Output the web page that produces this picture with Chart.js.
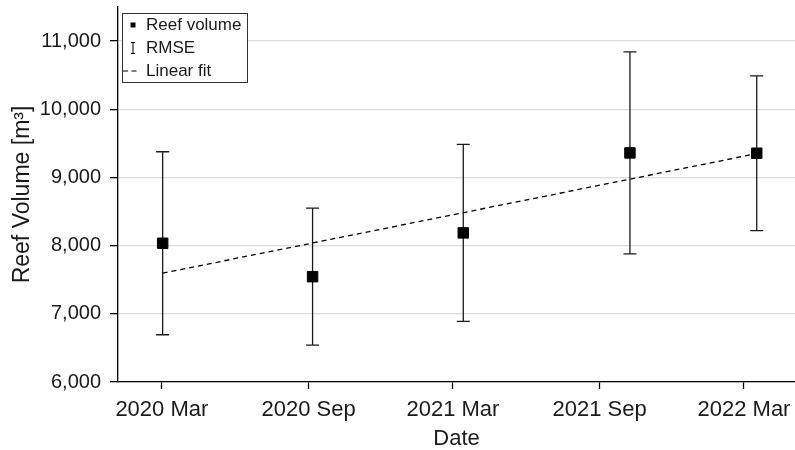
<!DOCTYPE html>
<html>
<head>
<meta charset="utf-8">
<script src="https://cdn.jsdelivr.net/npm/chart.js@4/dist/chart.umd.min.js"></script>
<style>
  body { margin: 0; background: #fff; }
</style>
</head>
<body>
<canvas id="reefChart" width="795" height="450"></canvas>
<script>
// Survey dates and measured reef volume (m3) with RMSE
const surveyDates = ['2020-03-02', '2020-09-06', '2021-03-14', '2021-10-09', '2022-03-17'];
const reefVolume = [8035, 7545, 8187, 9360, 9355];
const rmse = [1342, 1005, 1297, 1481, 1135];

// Linear fit end points
const fitDates = ['2020-03-02', '2022-03-17'];
const fitValues = [7596, 9350];

// Axis ticks
const tickDates = ['2020-03-01', '2020-09-01', '2021-03-01', '2021-09-01', '2022-03-01'];
const tickLabels = ['2020 Mar', '2020 Sep', '2021 Mar', '2021 Sep', '2022 Mar'];
const yTicks = [6000, 7000, 8000, 9000, 10000, 11000];

const FONT = "'Liberation Sans', Arial, sans-serif";

// days since epoch, so a plain linear scale works without a date adapter
function toDay(s) {
  return Date.parse(s + 'T00:00:00Z') / 86400000;
}

const tickDays = tickDates.map(toDay);

// error bars drawn behind the square markers
const errorBars = {
  id: 'errorBars',
  beforeDatasetsDraw(chart) {
    const ctx = chart.ctx;
    const xs = chart.scales.x;
    const ys = chart.scales.y;
    ctx.save();
    ctx.strokeStyle = '#1a1a1a';
    ctx.lineWidth = 1.3;
    for (let i = 0; i < reefVolume.length; i++) {
      const x = xs.getPixelForValue(toDay(surveyDates[i]));
      const top = ys.getPixelForValue(reefVolume[i] + rmse[i]);
      const bot = ys.getPixelForValue(reefVolume[i] - rmse[i]);
      ctx.beginPath();
      ctx.moveTo(x, top); ctx.lineTo(x, bot);
      ctx.moveTo(x - 6.5, top); ctx.lineTo(x + 6.5, top);
      ctx.moveTo(x - 6.5, bot); ctx.lineTo(x + 6.5, bot);
      ctx.stroke();
    }
    ctx.restore();
  }
};

// boxed legend in the upper left of the plot
const boxLegend = {
  id: 'boxLegend',
  afterDraw(chart) {
    const ctx = chart.ctx;
    const left = chart.chartArea.left + 4;
    const top = 13;
    ctx.save();
    ctx.fillStyle = '#fff';
    ctx.fillRect(left, top, 125, 69);
    ctx.strokeStyle = '#333';
    ctx.lineWidth = 1;
    ctx.strokeRect(left + 0.5, top + 0.5, 125, 69);

    const mx = left + 11;
    ctx.fillStyle = '#000';
    ctx.fillRect(mx - 2.5, 22.5, 5, 5);

    ctx.strokeStyle = '#000';
    ctx.beginPath();
    ctx.moveTo(mx, 42); ctx.lineTo(mx, 54);
    ctx.moveTo(mx - 2, 42.5); ctx.lineTo(mx + 2, 42.5);
    ctx.moveTo(mx - 2, 53.5); ctx.lineTo(mx + 2, 53.5);
    ctx.stroke();

    ctx.setLineDash([5, 3.5]);
    ctx.beginPath();
    ctx.moveTo(left + 1, 71); ctx.lineTo(left + 16, 71);
    ctx.stroke();
    ctx.setLineDash([]);

    ctx.fillStyle = '#1a1a1a';
    ctx.font = '17px ' + FONT;
    ctx.textBaseline = 'middle';
    ctx.fillText('Reef volume', left + 24, 25);
    ctx.fillText('RMSE', left + 24, 48);
    ctx.fillText('Linear fit', left + 24, 71);
    ctx.restore();
  }
};

new Chart(document.getElementById('reefChart'), {
  type: 'line',
  data: {
    datasets: [
      {
        label: 'Linear fit',
        data: fitDates.map((d, i) => ({ x: toDay(d), y: fitValues[i] })),
        borderColor: '#000',
        borderWidth: 1.3,
        borderDash: [5, 4],
        pointRadius: 0,
        fill: false
      },
      {
        label: 'Reef volume',
        data: surveyDates.map((d, i) => ({ x: toDay(d), y: reefVolume[i] })),
        showLine: false,
        pointStyle: 'rect',
        pointRadius: 7.4,
        pointBackgroundColor: '#000',
        pointBorderColor: '#000',
        pointBorderWidth: 1
      }
    ]
  },
  options: {
    responsive: false,
    animation: false,
    layout: { autoPadding: false, padding: { top: 7, left: 0, right: 0, bottom: 0 } },
    plugins: {
      legend: { display: false },
      tooltip: { enabled: false }
    },
    scales: {
      x: {
        type: 'linear',
        min: toDay('2020-01-06'),
        max: toDay('2022-05-04'),
        afterBuildTicks: (scale) => {
          scale.ticks = tickDays.map(v => ({ value: v }));
        },
        afterFit: (scale) => {
          scale.height = 68;
          scale.paddingLeft = 0;
          scale.paddingRight = 0;
        },
        ticks: {
          autoSkip: false,
          maxRotation: 0,
          padding: 8,
          color: '#1a1a1a',
          font: { family: FONT, size: 22 },
          callback: (v) => tickLabels[tickDays.indexOf(v)]
        },
        grid: {
          drawOnChartArea: false,
          drawTicks: true,
          tickLength: 7,
          tickColor: '#000',
          tickWidth: 1.3
        },
        border: { color: '#000', width: 1.3 },
        title: {
          display: true,
          text: 'Date',
          color: '#1a1a1a',
          font: { family: FONT, size: 22, lineHeight: 1 },
          padding: { top: 0, bottom: 0 }
        }
      },
      y: {
        min: 6000,
        max: 11500,
        afterBuildTicks: (scale) => {
          scale.ticks = yTicks.map(v => ({ value: v }));
        },
        afterFit: (scale) => {
          scale.width = 118;
          scale.paddingTop = 0;
          scale.paddingBottom = 0;
        },
        ticks: {
          padding: 9,
          color: '#1a1a1a',
          font: { family: FONT, size: 20 },
          callback: (v) => v.toLocaleString('en-US')
        },
        grid: {
          color: '#dcdcdc',
          lineWidth: 1.3,
          drawTicks: true,
          tickLength: 8,
          tickColor: '#000',
          tickWidth: 1.3
        },
        border: { color: '#000', width: 1.3 },
        title: {
          display: true,
          text: 'Reef Volume [m³]',
          color: '#1a1a1a',
          font: { family: FONT, size: 23 },
          padding: { top: 9, bottom: 0 }
        }
      }
    }
  },
  plugins: [errorBars, boxLegend]
});
</script>
</body>
</html>
